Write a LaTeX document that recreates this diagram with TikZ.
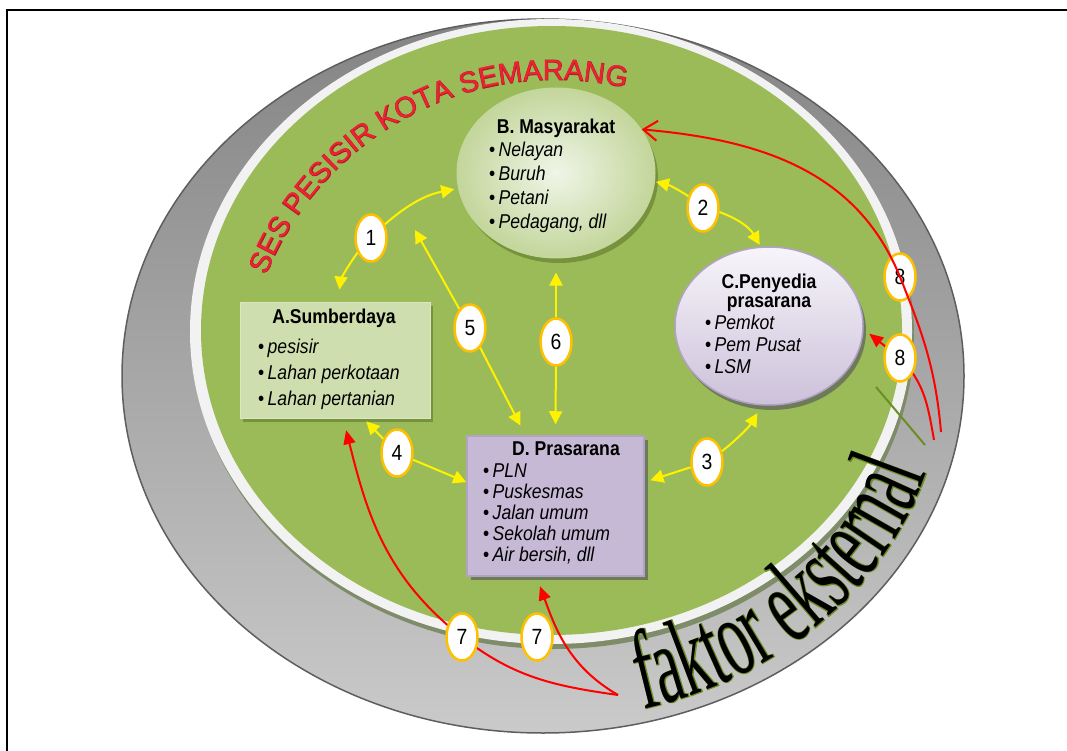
\documentclass[tikz,border=0pt]{standalone}
\usepackage{fontspec}
\setmainfont{Liberation Sans}
\newfontfamily\lblfont[FakeStretch=0.88]{Liberation Sans}
\newfontfamily\sesedge[FakeBold=2.5]{Liberation Sans}
\newfontfamily\extfont[FakeStretch=0.55]{Liberation Serif}
\newfontfamily\extedge[FakeStretch=0.55,FakeBold=1.2]{Liberation Serif}
\usetikzlibrary{shapes.geometric,arrows.meta,shadows,decorations.text}

\definecolor{facegreen}{HTML}{9BBB59}
\definecolor{rimwhite}{HTML}{F2F2F2}
\definecolor{rimshade}{HTML}{7F8C69}
\definecolor{ringdark}{HTML}{848484}
\definecolor{ringlight}{HTML}{CACACA}
\definecolor{ringedge}{HTML}{5E5E5E}
\definecolor{sesred}{HTML}{EE2233}
\definecolor{sesdark}{HTML}{B01828}
\definecolor{gpale}{HTML}{F0F5E8}
\definecolor{gedge}{HTML}{C3D69B}
\definecolor{gshadow}{HTML}{76923C}
\definecolor{ppale}{HTML}{F7F5FA}
\definecolor{pmid}{HTML}{ECE7F2}
\definecolor{pedge}{HTML}{B3A2C7}
\definecolor{pbottom}{HTML}{CCC1DA}
\definecolor{pshadow}{HTML}{6E7B58}
\definecolor{badgeor}{HTML}{FFC000}
\definecolor{extolive}{HTML}{6B8E23}

\newcommand\bul[1]{\textbullet\,\textit{#1}}

\tikzset{
  every node/.style={font=\lblfont\fontsize{20}{22}\selectfont},
  ttl/.style={font=\lblfont\fontsize{20}{22}\selectfont\bfseries, anchor=base, inner sep=0pt},
  itm/.style={anchor=base west, inner sep=0pt},
  gbox/.style={rectangle, draw=gedge!60!white, line width=1pt, inner sep=0pt,
    left color=gedge!80!white, middle color=gpale, right color=gedge!80!white,
    general shadow={fill=gshadow, shadow xshift=3pt, shadow yshift=-4pt}},
  gcirc/.style={ellipse, draw=gedge, line width=1pt, inner sep=0pt,
    inner color=gpale, outer color=gedge,
    general shadow={fill=gshadow, shadow xshift=3pt, shadow yshift=-5pt}},
  pcirc/.style={ellipse, draw=pedge, line width=1.5pt, inner sep=0pt,
    top color=ppale, bottom color=pbottom,
    general shadow={fill=pshadow, shadow xshift=3pt, shadow yshift=-5pt}},
  pbox/.style={rectangle, draw=pedge, line width=1.5pt, inner sep=0pt,
    left color=pedge!75!white, middle color=pmid, right color=pedge!75!white,
    general shadow={fill=pshadow, shadow xshift=4pt, shadow yshift=-4pt}},
  badge/.style={ellipse, draw=badgeor, line width=2.5pt, fill=white,
    minimum width=31pt, minimum height=47pt, inner sep=0pt,
    font=\lblfont\fontsize{22}{24}\selectfont},
  yarr/.style={draw=yellow, line width=2pt, -{Triangle[length=13pt,width=13pt]}},
  rarr/.style={draw=red, line width=2pt, -{Triangle[length=14pt,width=12pt]}},
}

\begin{document}
\begin{tikzpicture}[x=1pt,y=1pt]
\useasboundingbox (0,0) rectangle (1067,-751);

% frame
\draw[line width=2pt] (7,-751) -- (7,-10) -- (1067,-10);

% --- disc: grey side, white rim, green face ---
\shadedraw[draw=ringedge, line width=1.5pt, top color=ringdark, bottom color=ringlight]
  (543,-376) ellipse [x radius=421, y radius=357];
\fill[rimshade] (553,-336.5) ellipse [x radius=361, y radius=312.5];
\fill[rimwhite] (551,-331.5) ellipse [x radius=361, y radius=312.5];
\fill[facegreen] (551.5,-330.5) ellipse [x radius=350.5, y radius=304.5];

% title on the arc
\path[decorate, decoration={text along path, text align=center, text color=sesdark,
    text={|\fontsize{29}{30}\sesedge|SES PESISIR KOTA SEMARANG}}]
  (252.9,-316.5) arc[start angle=166, end angle=69, radius=312];
\path[decorate, decoration={text along path, text align=center, text color=sesred,
    text={|\fontsize{29}{30}\selectfont|SES PESISIR KOTA SEMARANG}}]
  (252.9,-316.5) arc[start angle=166, end angle=69, radius=312];

% --- the four blocks ---
\node[gbox, minimum width=190pt, minimum height=116pt] (nA) at (335,-360) {};
\node[gcirc, minimum width=198pt, minimum height=170pt] (nB) at (556,-173) {};
\node[pcirc, minimum width=188pt, minimum height=158pt] (nC) at (769,-326) {};
\node[pbox, minimum width=177pt, minimum height=140pt] (nD) at (555.5,-506) {};

% A.Sumberdaya
\node[ttl] (tA) at (334,-323) {A.Sumberdaya};
\foreach \t [count=\i from 0] in {pesisir, Lahan perkotaan, Lahan pertanian}
  \node[itm] (lA\i) at (258,{-353-26*\i}) {\bul{\t}};

% B. Masyarakat
\node[ttl] (tB) at (556,-134) {B. Masyarakat};
\foreach \t [count=\i from 0] in {Nelayan, Buruh, Petani, {Pedagang, dll}}
  \node[itm] (lB\i) at (489,{-157-24*\i}) {\bul{\t}};

% C.Penyedia prasarana
\node[ttl] (tC) at (769,-288) {C.Penyedia};
\node[ttl] (tC2) at (769,-307) {prasarana};
\foreach \t [count=\i from 0] in {Pemkot, Pem Pusat, LSM}
  \node[itm] (lC\i) at (705,{-329-22*\i}) {\bul{\t}};

% D. Prasarana
\node[ttl] (tD) at (566,-455) {D. Prasarana};
\foreach \t [count=\i from 0] in {PLN, Puskesmas, Jalan umum, Sekolah umum, {Air bersih, dll}}
  \node[itm] (lD\i) at (483,{-477-21*\i}) {\bul{\t}};

% --- yellow links with their numbers ---
\node[badge] (b1) at (371,-238) {1};
\node[badge] (b2) at (703,-208) {2};
\node[badge] (b3) at (707,-462) {3};
\node[badge] (b4) at (397,-453) {4};
\node[badge] (b5) at (470,-328) {5};
\node[badge] (b6) at (556,-342) {6};
\coordinate (t5) at (415,-230);

\draw[yarr, shorten >=12pt] (b1) to[bend right=15] (nA.87);
\draw[yarr, shorten >=4pt] (b1) to[bend left=15] (nB.189);
\draw[yarr, shorten >=1pt] (b2) to[bend right=10] (nB.355);
\draw[yarr, shorten >=2pt] (b2) to[bend left=20] (nC.96);
\draw[yarr, shorten >=6pt] (b3) -- (nD.15);
\draw[yarr, shorten >=9pt] (b3) to[bend right=10] (nC.265);
\draw[yarr, shorten >=4pt] (b4) -- (nA.-64);
\draw[yarr] (b4) -- (nD.165);
\draw[yarr] (b5) -- (t5);
\draw[yarr, shorten >=11pt] (b5) -- (nD.113);
\draw[yarr, shorten >=14pt] (b6) -- (nB.south);
\draw[yarr, shorten >=11pt] (b6) -- (nD.north);

% --- red links from outside ---
\coordinate (c7) at (618,-695);
\coordinate (p7a) at (462,-637);
\draw[rarr, shorten >=12pt] (c7) to[out=172,in=-38] (p7a) to[out=142,in=-76] (nA.-82);
\draw[rarr, shorten >=10pt] (c7) to[out=150,in=-70] (nD.-105);
\node[badge] (b7a) at (p7a) {7};
\node[badge] (b7b) at (537,-637) {7};

\coordinate (c8a) at (941,-432);
\coordinate (c8b) at (934,-440);
\coordinate (p8b) at (900,-358);
\draw[rarr, shorten >=7pt] (c8b) to[out=100,in=-45] (p8b) -- (nC.-2);
\node[badge] (b8b) at (p8b) {8};
\node[badge] (b8a) at (900,-277) {8};
\draw[rarr, -{Straight Barb[length=14pt,width=20pt]}]
  (c8a) to[out=95,in=-68] (b8a.center) to[out=112,in=-5] (nB.27);

% faktor eksternal
\draw[extolive, line width=2pt] (876,-387) -- (925,-445);
\path[decorate, decoration={text along path, text align=center, text color=extolive,
    text={|\fontsize{112}{120}\extedge|faktor eksternal}}]
  (556.9,-719.8) arc[start angle=-88, end angle=-2, x radius=400, y radius=345];
\path[decorate, decoration={text along path, text align=center, text color=black,
    text={|\fontsize{112}{120}\extfont|faktor eksternal}}]
  (556.9,-719.8) arc[start angle=-88, end angle=-2, x radius=400, y radius=345];

\end{tikzpicture}
\end{document}
